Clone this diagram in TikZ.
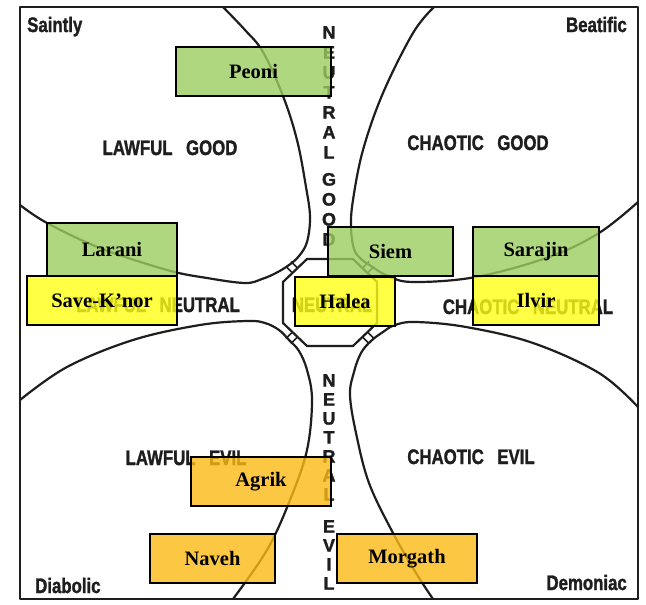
\documentclass[tikz,border=0pt]{standalone}
\usepackage{fontspec,graphicx}
\newfontfamily\namefont{Liberation Serif}
\newfontfamily\chartfont[FakeBold=1.6]{Liberation Sans}
\newcommand{\alncond}[1]{\scalebox{0.8}[1]{#1}}
\definecolor{algreen}{RGB}{156,206,96}
\definecolor{alyellow}{RGB}{255,255,20}
\definecolor{alorange}{RGB}{252,187,22}
\definecolor{alink}{RGB}{30,30,30}

\begin{document}
\begin{tikzpicture}[x=1pt,y=-1pt,
  alnline/.style={draw=alink,line width=2.2pt,line join=round},
  alnrung/.style={draw=alink,line width=1.6pt},
  alnlabel/.style={font=\chartfont\bfseries\fontsize{21}{21}\selectfont,text=alink,inner sep=0pt},
  alnletters/.style={alnlabel,align=center,anchor=north},
  alnname/.style={draw=black,line width=1.4pt,fill opacity=0.8,text opacity=1,inner sep=0pt,
    font=\namefont\bfseries\fontsize{20.5}{22}\selectfont,minimum height=49pt}
]
  \useasboundingbox (0,0) rectangle (646,605);
  \fill[white] (0,0) rectangle (646,605);
  % Frame
  \draw[alnline,line width=2.8pt] (20,7) rectangle (638,599);
  % Quadrant outlines
  \draw[alnline] plot[smooth,tension=0.6] coordinates {(223,7) (245,30) (263,52) (283,96)
    (297,140) (306,187) (310,217) (307,242) (299,256) (289,265) (276,273) (262,279)
    (245,283) (207,278) (167,270) (100,248) (47,223) (20,205)};
  \draw[alnline] plot[smooth,tension=0.6] coordinates {(434,7) (413,33) (383,93) (363,150)
    (353,200) (351,227) (354,249) (361,259) (371,266) (388,276) (413,282) (476,277)
    (549,257) (599,233) (638,202)};
  \draw[alnline] plot[smooth,tension=0.6] coordinates {(638,407) (599,373) (533,343)
    (466,327) (416,322) (395,325) (383,332) (371,341) (361,353) (354,372) (350,395)
    (356,433) (369,483) (393,533) (416,573) (433,599)};
  \draw[alnline] plot[smooth,tension=0.6] coordinates {(20,400) (67,367) (133,340)
    (200,325) (247,321) (265,323) (279,330) (289,340) (299,351) (307,370) (312,400)
    (307,450) (290,500) (267,550) (233,599)};
  % Neutral octagon and its links
  \draw[alnline] (307,259) -- (353,259) -- (377,282) -- (377,323) -- (353,346)
    -- (307,346) -- (283,323) -- (283,282) -- cycle;
  \draw[alnrung] (297.5,268) -- (291,261.5) (292.5,273) -- (286,266.5);
  \draw[alnrung] (367.5,273) -- (374,266.5) (362.5,268) -- (369,261.5);
  \draw[alnrung] (367.5,332) -- (374,338.5) (362.5,337) -- (369,343.5);
  \draw[alnrung] (297.5,337) -- (291,343.5) (292.5,332) -- (286,338.5);
  % Corner labels
  \node[alnlabel,anchor=base west] (saintly) at (27,32) {\alncond{Saintly}};
  \node[alnlabel,anchor=base east] (beatific) at (627,32) {\alncond{Beatific}};
  \node[alnlabel,anchor=base west] (diabolic) at (35,593) {\alncond{Diabolic}};
  \node[alnlabel,anchor=base east] (demoniac) at (627,590) {\alncond{Demoniac}};
  % Alignment labels
  \node[alnlabel,anchor=base] (lg) at (170,155) {\alncond{LAWFUL\hspace{11pt} GOOD}};
  \node[alnlabel,anchor=base] (cg) at (478,150) {\alncond{CHAOTIC\hspace{11pt} GOOD}};
  \node[alnlabel,anchor=base] (ln) at (158,312) {\alncond{LAWFUL\hspace{11pt} NEUTRAL}};
  \node[alnlabel,anchor=base] (tn) at (332,312) {\alncond{NEUTRAL}};
  \node[alnlabel,anchor=base] (cn) at (528,314) {\alncond{CHAOTIC\hspace{11pt} NEUTRAL}};
  \node[alnlabel,anchor=base] (le) at (186,465) {\alncond{LAWFUL\hspace{11pt} EVIL}};
  \node[alnlabel,anchor=base] (ce) at (471,464) {\alncond{CHAOTIC\hspace{11pt} EVIL}};
  \node[alnletters,font=\chartfont\bfseries\fontsize{18}{20}\selectfont] (ng) at (329,26)
    {N\\E\\U\\T\\R\\A\\L\\[7pt]G\\O\\O\\D};
  \node[alnletters,font=\chartfont\bfseries\fontsize{18}{19}\selectfont] (ne) at (329,374)
    {N\\E\\U\\T\\R\\A\\L\\[13pt]E\\V\\I\\L};
  % Character boxes
  \node[alnname,fill=algreen,minimum width=155pt] (peoni) at (253.5,71.5) {Peoni};
  \node[alnname,fill=algreen,minimum width=130pt,minimum height=53pt] (larani) at (112,249.5) {Larani};
  \node[alnname,fill=alyellow,minimum width=150pt] (saveknor) at (102,300.5) {Save-K’nor};
  \node[alnname,fill=algreen,minimum width=125pt] (siem) at (390.5,251.5) {Siem};
  \node[alnname,fill=algreen,minimum width=126pt] (sarajin) at (536,251.5) {Sarajin};
  \node[alnname,fill=alyellow,minimum width=100pt] (halea) at (345,301.5) {Halea};
  \node[alnname,fill=alyellow,minimum width=126pt] (ilvir) at (536,300.5) {Ilvir};
  \node[alnname,fill=alorange,minimum width=140pt] (agrik) at (261,481.5) {Agrik};
  \node[alnname,fill=alorange,minimum width=125pt] (naveh) at (212.5,558.5) {Naveh};
  \node[alnname,fill=alorange,minimum width=140pt] (morgath) at (407,558.5) {Morgath};
\end{tikzpicture}
\end{document}
